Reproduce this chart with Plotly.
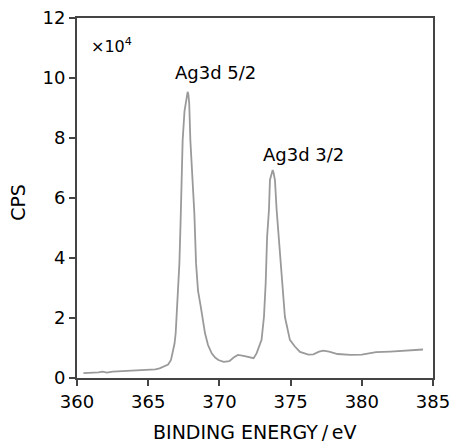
import plotly.graph_objects as go

# espectro XPS Ag3d (CPS em unidades de 10^4)
energia = [360.45, 361.0, 361.5, 361.8, 362.1, 362.5, 363.0, 364.0, 364.9, 365.5,
           365.8, 366.06, 366.4, 366.6, 366.72, 366.85, 366.93, 367.04, 367.19, 367.28,
           367.32, 367.42, 367.55, 367.63, 367.72, 367.77, 367.82, 367.88, 367.96, 368.1,
           368.17, 368.24, 368.36, 368.5, 368.69, 368.85, 368.99, 369.2, 369.46, 369.7,
           369.93, 370.3, 370.7, 371.0, 371.3, 371.7, 372.14, 372.4, 372.61, 372.8,
           372.96, 373.13, 373.25, 373.35, 373.48, 373.55, 373.68, 373.74, 373.8, 373.9,
           374.02, 374.2, 374.37, 374.6, 374.95, 375.3, 375.66, 376.0, 376.25, 376.6,
           377.0, 377.3, 377.7, 378.3, 379.2, 380.0, 381.0, 382.0, 383.0, 384.3]
cps = [0.16, 0.17, 0.19, 0.21, 0.18, 0.21, 0.22, 0.24, 0.27, 0.29,
       0.32, 0.38, 0.45, 0.6, 0.82, 1.15, 1.49, 2.38, 3.82, 5.3,
       6.38, 7.93, 8.9, 9.16, 9.5, 9.54, 9.45, 9.16, 7.93, 6.9,
       6.38, 5.5, 3.82, 2.9, 2.38, 1.85, 1.49, 1.1, 0.82, 0.68,
       0.6, 0.54, 0.56, 0.68, 0.77, 0.74, 0.69, 0.66, 0.82, 1.1,
       1.27, 2.04, 3.16, 4.7, 5.6, 6.6, 6.9, 6.93, 6.85, 6.6,
       5.6, 4.5, 3.16, 2.04, 1.27, 1.05, 0.87, 0.82, 0.78, 0.79,
       0.88, 0.91, 0.88, 0.80, 0.77, 0.78, 0.86, 0.88, 0.90, 0.95]

x_ticks = [360, 365, 370, 375, 380, 385]
y_ticks = [0, 2, 4, 6, 8, 10, 12]

fonte = 'DejaVu Sans'
preto = dict(family=fonte, size=18, color='black')

fig = go.Figure()
fig.add_trace(go.Scatter(x=energia, y=cps, mode='lines',
                         line=dict(color='#9a9a9a', width=1.8), showlegend=False))

# rótulos dos picos
fig.add_annotation(x=369.7, y=10.2, text='Ag3d 5/2', showarrow=False, font=preto)
fig.add_annotation(x=375.9, y=7.45, text='Ag3d 3/2', showarrow=False, font=preto)
fig.add_annotation(x=0.098, y=11.1, xref='x domain', text='×10<sup>4</sup>', showarrow=False,
                   xanchor='center', yanchor='middle',
                   font=dict(family=fonte, size=16, color='black'))

# títulos dos eixos como anotações (posição controlada)
fig.add_annotation(x=0.5, y=-0.15, xref='paper', yref='paper', text='BINDING ENERGY\u2009/\u2009eV',
                   showarrow=False, xanchor='center', yanchor='middle',
                   font=dict(family=fonte, size=19, color='black'))
fig.add_annotation(x=-0.166, y=0.489, xref='paper', yref='paper', text='CPS', textangle=-90,
                   showarrow=False, xanchor='center', yanchor='middle',
                   font=dict(family=fonte, size=19, color='black'))

eixo = dict(showline=True, linecolor='#444', linewidth=2, mirror=True,
            ticks='outside', ticklen=6, tickwidth=1.5, tickcolor='#444',
            showgrid=False, zeroline=False, automargin=False, tickfont=preto,
            ticklabeloverflow='allow')

fig.update_xaxes(range=[360, 385], tickvals=x_ticks, **eixo)
fig.update_yaxes(range=[0, 12], tickvals=y_ticks, **eixo)

fig.update_layout(width=451, height=442, plot_bgcolor='white', paper_bgcolor='white',
                  margin=dict(l=77, r=18, t=18, b=64))

# tira a margem padrão do body para a figura ocupar a janela inteira
fig.write_html('out.html', config={'displayModeBar': False},
               post_script="document.body.style.margin='0';")
